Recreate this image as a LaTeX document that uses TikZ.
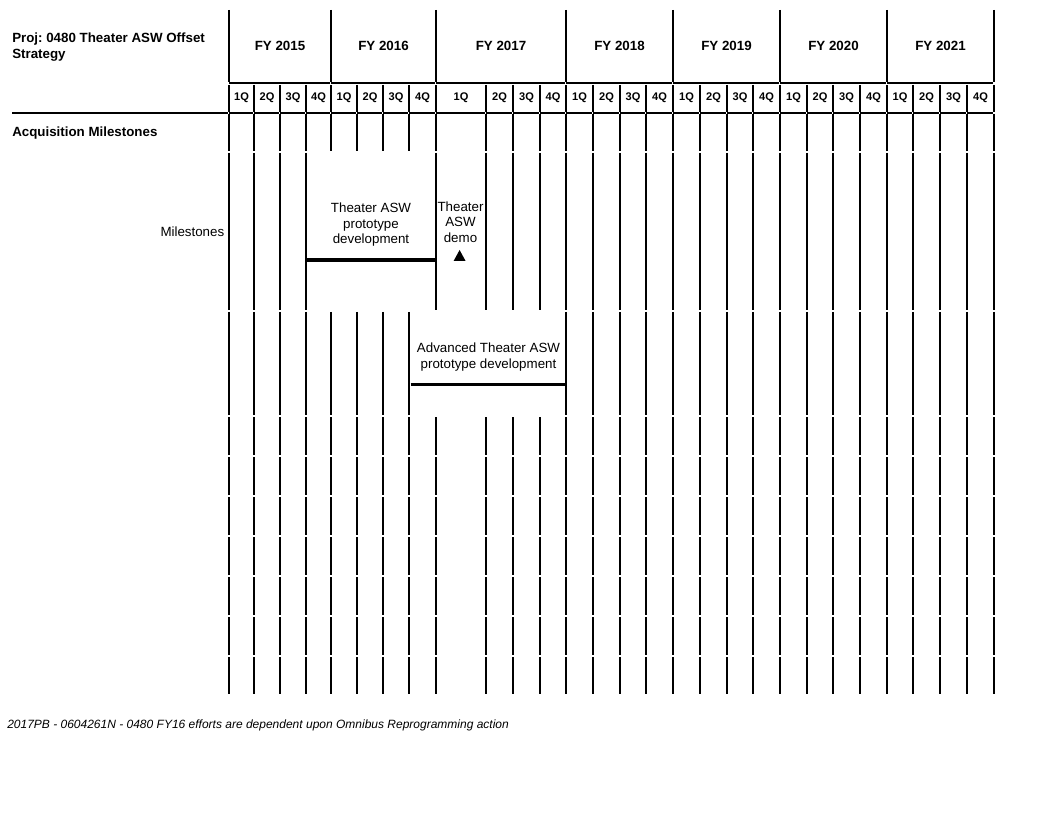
\documentclass[tikz,border=0pt]{standalone}
\usepackage{fontspec}
\setmainfont{Liberation Sans}
\frenchspacing
\begin{document}
\begin{tikzpicture}[x=0.75pt,y=-0.75pt,
  rule/.style={line width=1pt},
  bar/.style={line width=2.8pt},
  hdr/.style={font=\bfseries\fontsize{10}{12}\selectfont, inner sep=0pt},
  qlbl/.style={font=\bfseries\fontsize{8.3}{9}\selectfont, inner sep=0pt},
  lbl/.style={font=\fontsize{10}{11.6}\selectfont, inner sep=0pt, align=center},
  note/.style={font=\itshape\fontsize{9}{10}\selectfont, inner sep=0pt, anchor=west}]
\useasboundingbox (0,0) rectangle (1056,816);

% quarter boundaries of the time axis
\def\allq{229,254,280,306,331,357,383,409,436,486,513,540,566,593,620,646,673,700,727,753,780,807,833,860,887,913,940,967,994}

% header: fiscal-year cells
\foreach \a/\b/\y in {229/331/2015,331/436/2016,436/566/2017,566/673/2018,673/780/2019,780/887/2020,887/994/2021}{
  \draw[rule] (\a,10) -- (\a,82);
  \draw[rule] (\a,83) -- (\b-1.5,83);
  \node[hdr] (fy\y) at ({(\a+\b)/2},46) {FY \y};
}
\draw[rule] (994,10) -- (994,82);

% header: quarter cells
\foreach \x in \allq { \draw[rule] (\x,85) -- (\x,112); }
\foreach \a/\b/\q [count=\i] in {229/254/1,254/280/2,280/306/3,306/331/4,
  331/357/1,357/383/2,383/409/3,409/436/4,
  436/486/1,486/513/2,513/540/3,540/566/4,
  566/593/1,593/620/2,620/646/3,646/673/4,
  673/700/1,700/727/2,727/753/3,753/780/4,
  780/807/1,807/833/2,833/860/3,860/887/4,
  887/913/1,913/940/2,940/967/3,967/994/4}{
  \node[qlbl] (q\i) at ({(\a+\b)/2},98) {\q Q};
  \draw[rule] (\a,113) -- (\b-1.5,113);
}
\draw[rule] (12,113) -- (227.5,113);

% body rows with every quarter line
\foreach \t/\u in {113/152,416/456,456/496,496/536,536/576,576/616,616/656,656/695}{
  \foreach \x in \allq { \draw[rule] (\x,\t+1) -- (\x,\u-1); }
}
% milestone row: FY15 4Q to FY16 4Q merged
\foreach \x in {229,254,280,306,436,486,513,540,566,593,620,646,673,700,727,753,780,807,833,860,887,913,940,967,994}{
  \draw[rule] (\x,153) -- (\x,310);
}
% second activity row: FY16 4Q to FY17 4Q merged
\foreach \x in {229,254,280,306,331,357,383,409,566,593,620,646,673,700,727,753,780,807,833,860,887,913,940,967,994}{
  \draw[rule] (\x,312) -- (\x,415);
}

% row titles
\node[hdr, anchor=west, align=left] (proj) at (12,47.5) {Proj: 0480 Theater ASW Offset\\Strategy};
\node[hdr, anchor=west] (acq) at (12,133) {Acquisition Milestones};
\node[lbl, anchor=east] (ms) at (224.5,231.5) {Milestones};

% activities
\node[lbl] (proto) at (371,225) {Theater ASW\\prototype\\development};
\coordinate (p1s) at (306.5,260.3);
\coordinate (p1e) at (436,260.3);
\draw[bar] (p1s) -- (p1e);

\node[lbl] (demo) at (460.5,222) {Theater\\ASW\\demo};
\fill (459.6,250) -- (465.6,261) -- (453.6,261) -- cycle;

\node[lbl] (adv) at (488.5,357) {Advanced Theater ASW\\prototype development};
\coordinate (p2s) at (410.5,384.5);
\coordinate (p2e) at (566,384.5);
\draw[bar] (p2s) -- (p2e);

% footnote
\node[note] (fn) at (7,725) {2017PB - 0604261N - 0480 FY16 efforts are dependent upon Omnibus Reprogramming action};
\end{tikzpicture}
\end{document}
